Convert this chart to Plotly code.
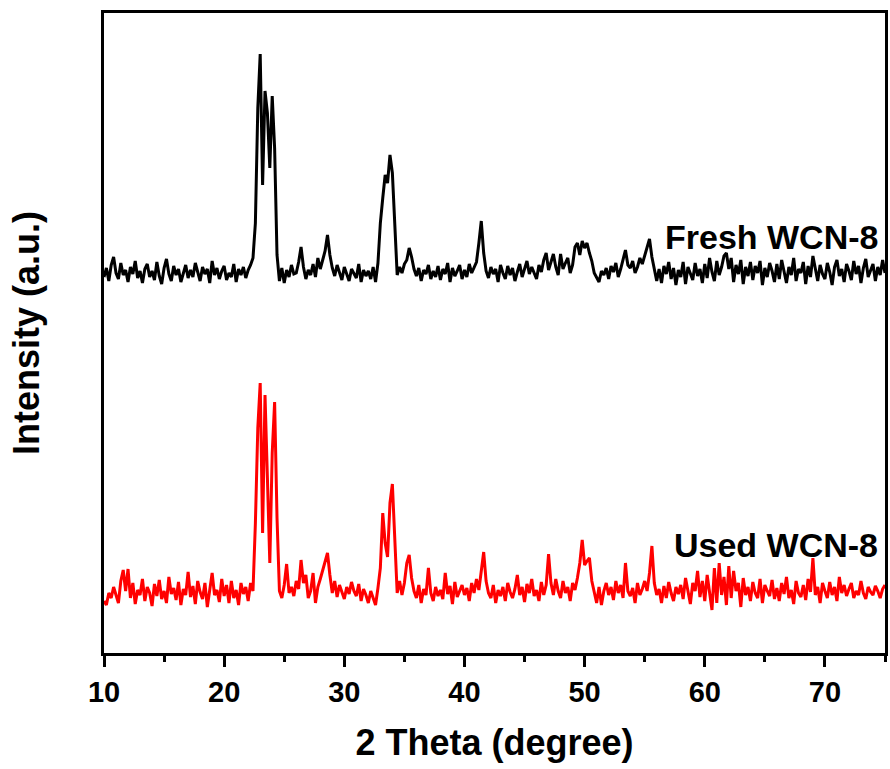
import numpy as np
import plotly.graph_objects as go

# 2-theta sampling grid (degrees), step 0.2 from 10 to 75
two_theta = np.round(np.arange(10.0, 75.0001, 0.2), 1)

# Fresh WCN-8 intensity (a.u.)
fresh = [
    376, 385, 372, 388, 396, 380, 374, 390, 378, 383,   # 10.0-11.8
    371, 386, 379, 392, 375, 382, 370, 384, 389, 376,   # 12.0-13.8
    382, 373, 391, 377, 369, 385, 394, 379, 372, 387,   # 14.0-15.8
    378, 384, 371, 380, 388, 375, 383, 376, 390, 381,   # 16.0-17.8
    372, 386, 379, 384, 370, 392, 378, 385, 374, 382,   # 18.0-19.8
    387, 373, 380, 376, 389, 371, 384, 378, 386, 375,   # 20.0-21.8
    383, 388, 395, 430, 545, 599, 468, 562, 540, 485,   # 22.0-23.8
    557, 505, 398, 372, 385, 370, 383, 376, 388, 379,   # 24.0-25.8
    380, 391, 406, 386, 374, 383, 378, 389, 376, 395,   # 26.0-27.8
    384, 393, 402, 418, 398, 385, 377, 388, 380, 373,   # 28.0-29.8
    386, 378, 372, 384, 380, 375, 389, 371, 383, 377,   # 30.0-31.8
    382, 374, 386, 371, 390, 430, 455, 478, 470, 498,   # 32.0-33.8
    480, 420, 378, 386, 380, 389, 393, 405, 396, 384,   # 34.0-35.8
    377, 385, 372, 383, 379, 388, 374, 382, 376, 387,   # 36.0-37.8
    373, 384, 379, 390, 371, 385, 377, 382, 388, 374,   # 38.0-39.8
    383, 376, 389, 380, 386, 391, 410, 432, 400, 382,   # 40.0-41.8
    375, 386, 379, 384, 371, 388, 380, 374, 387, 378,   # 42.0-43.8
    385, 372, 381, 389, 376, 383, 392, 379, 386, 380,   # 44.0-45.8
    374, 388, 381, 393, 400, 383, 391, 399, 386, 378,   # 46.0-47.8
    399, 384, 390, 395, 380, 388, 406, 410, 398, 412,   # 48.0-49.8
    405, 410, 400, 392, 380, 376, 371, 382, 378, 385,   # 50.0-51.8
    374, 387, 381, 390, 376, 384, 393, 403, 388, 385,   # 52.0-53.8
    392, 380, 386, 395, 389, 398, 405, 414, 396, 383,   # 54.0-55.8
    372, 384, 370, 387, 379, 391, 374, 385, 368, 383,   # 56.0-57.8
    376, 391, 369, 386, 380, 373, 390, 377, 384, 370,   # 58.0-59.8
    389, 375, 395, 381, 372, 392, 378, 386, 397, 400,   # 60.0-61.8
    384, 395, 371, 388, 379, 393, 369, 386, 377, 391,   # 62.0-63.8
    373, 387, 380, 392, 368, 385, 376, 390, 382, 371,   # 64.0-65.8
    389, 374, 393, 381, 370, 386, 378, 395, 372, 384,   # 66.0-67.8
    380, 391, 369, 387, 376, 397, 383, 372, 388, 379,   # 68.0-69.8
    374, 390, 381, 368, 386, 393, 377, 384, 371, 389,   # 70.0-71.8
    382, 373, 392, 379, 387, 370, 385, 394, 376, 383,   # 72.0-73.8
    389, 372, 386, 378, 393, 380,                       # 74.0-75.0
]

# Used WCN-8 intensity (a.u.)
used = [
    52, 48, 60, 55, 66, 58, 50, 72, 83, 62,             # 10.0-11.8
    84, 55, 70, 49, 63, 58, 74, 52, 66, 60,             # 12.0-13.8
    47, 69, 57, 73, 54, 62, 50, 76, 59, 65,             # 14.0-15.8
    53, 71, 48, 64, 58, 81, 56, 67, 49, 72,             # 16.0-17.8
    61, 54, 70, 46, 66, 80, 58, 63, 51, 74,             # 18.0-19.8
    57, 68, 50, 72, 55, 63, 48, 70, 59, 66,             # 20.0-21.8
    52, 70, 62, 130, 225, 270, 120, 258, 175, 90,       # 22.0-23.8
    200, 251, 135, 62, 55, 68, 89, 60, 66, 57,          # 24.0-25.8
    72, 64, 93, 70, 78, 55, 62, 80, 50, 66,             # 26.0-27.8
    74, 82, 90, 100, 78, 60, 72, 56, 68, 61,            # 28.0-29.8
    54, 66, 59, 71, 62, 57, 69, 52, 64, 58,             # 30.0-31.8
    50, 62, 56, 48, 65, 85, 140, 110, 96, 150,          # 32.0-33.8
    169, 110, 60, 72, 58, 70, 90, 98, 75, 62,           # 34.0-35.8
    55, 68, 50, 64, 58, 85, 60, 52, 66, 57,             # 36.0-37.8
    63, 54, 80, 59, 67, 49, 71, 56, 62, 68,             # 38.0-39.8
    58, 65, 52, 70, 60, 74, 63, 82, 101, 72,            # 40.0-41.8
    60, 55, 68, 50, 63, 57, 66, 52, 70, 61,             # 42.0-43.8
    55, 64, 78, 58, 66, 51, 69, 60, 74, 57,             # 44.0-45.8
    63, 52, 71, 58, 68, 99, 70, 58, 74, 62,             # 46.0-47.8
    55, 72, 60, 66, 52, 70, 63, 75, 90, 113,            # 48.0-49.8
    88, 92, 95, 72, 60, 50, 66, 48, 62, 70,             # 50.0-51.8
    58, 66, 53, 72, 60, 68, 55, 90, 62, 57,             # 52.0-53.8
    65, 50, 70, 58, 64, 72, 62, 80, 107, 70,            # 54.0-55.8
    58, 64, 50, 67, 55, 71, 60, 52, 66, 59,             # 56.0-57.8
    68, 54, 75, 60, 49, 70, 62, 82, 56, 72,             # 58.0-59.8
    52, 78, 60, 43, 85, 50, 90, 58, 76, 48,             # 60.0-61.8
    87, 55, 82, 62, 70, 46, 75, 58, 66, 52,             # 62.0-63.8
    71, 60, 55, 74, 50, 68, 62, 57, 73, 54,             # 64.0-65.8
    65, 52, 70, 59, 76, 55, 63, 49, 72, 60,             # 66.0-67.8
    56, 68, 53, 74, 61, 95, 58, 66, 50, 70,             # 68.0-69.8
    62, 55, 71, 58, 66, 52, 76, 60, 68, 57,             # 70.0-71.8
    64, 70, 55, 62, 58, 72, 60, 54, 66, 61,             # 72.0-73.8
    58, 67, 62, 55, 64, 68,                             # 74.0-75.0
]

series_names = ["Fresh WCN-8", "Used WCN-8"]
series_colors = ["#000000", "#ff0000"]
label_heights = [416, 108]

x_ticks = [10, 20, 30, 40, 50, 60, 70]

FONT = "Arial, 'Liberation Sans', sans-serif"

fig = go.Figure()
for name, vals, col in zip(series_names, [fresh, used], series_colors):
    fig.add_trace(go.Scatter(x=two_theta, y=vals, mode="lines", name=name,
                             line=dict(color=col, width=3), showlegend=False))

for name, h in zip(series_names, label_heights):
    fig.add_annotation(x=0.993, xref="paper", y=h, yref="y", text="<b>%s</b>" % name,
                       showarrow=False, xanchor="right", yanchor="middle",
                       font=dict(family=FONT, size=34, color="black"))

fig.update_layout(
    width=890, height=769,
    margin=dict(l=104, r=2, t=13, b=116),
    paper_bgcolor="white", plot_bgcolor="white",
    font=dict(family=FONT, color="black"),
    xaxis=dict(range=[10, 75], tickvals=x_ticks, ticks="outside", ticklen=11, tickwidth=2.5,
               tickcolor="black", showgrid=False, zeroline=False,
               showline=True, linewidth=3, linecolor="black", mirror=True,
               tickfont=dict(family=FONT, size=29, color="black", weight="bold"),
               minor=dict(dtick=5, tick0=10, ticks="outside", ticklen=6, tickwidth=2.5, tickcolor="black", showgrid=False),
               title=dict(text="<b>2 Theta (degree)</b>", font=dict(family=FONT, size=36, color="black"), standoff=24)),
    yaxis=dict(range=[0, 640], showticklabels=False, ticks="", showgrid=False, zeroline=False,
               showline=True, linewidth=3, linecolor="black", mirror=True,
               title=dict(text="<b>Intensity (a.u.)</b>", font=dict(family=FONT, size=36, color="black"), standoff=51)),
)

fig.write_html("out.html", config={"displayModeBar": False},
               post_script="document.body.style.margin='0';document.body.style.overflow='hidden';")
